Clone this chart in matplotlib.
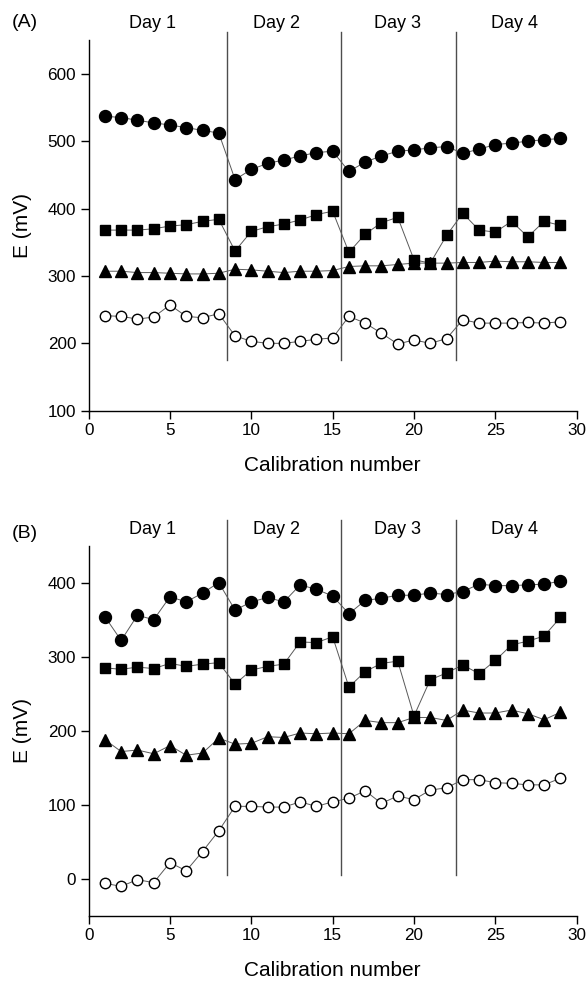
import numpy as np
import matplotlib.pyplot as plt

plt.rcParams['font.family'] = ['Liberation Sans', 'DejaVu Sans']

calib = np.arange(1, 30)

# Panel A values (mV)
a_filled_circle = [537, 535, 531, 527, 524, 520, 516, 512, 443, 458, 467, 472, 478,
                   483, 485, 455, 469, 478, 485, 487, 490, 492, 482, 488, 495, 497,
                   500, 502, 504]
a_square = [368, 368, 368, 370, 374, 376, 381, 384, 337, 366, 373, 377, 383, 391,
            396, 335, 362, 379, 387, 324, 319, 360, 393, 368, 365, 381, 358, 381, 375]
a_triangle = [307, 307, 305, 305, 304, 303, 303, 304, 310, 309, 307, 305, 307, 307,
              308, 314, 315, 315, 317, 319, 319, 319, 320, 320, 322, 321, 321, 320, 320]
a_open_circle = [241, 240, 236, 239, 257, 240, 238, 244, 211, 203, 200, 200, 203,
                 206, 208, 240, 230, 215, 199, 205, 200, 207, 235, 230, 230, 230,
                 231, 230, 232]

# Panel B values (mV)
b_filled_circle = [354, 322, 356, 350, 381, 374, 386, 400, 363, 374, 380, 374, 397,
                   391, 382, 358, 376, 379, 383, 383, 386, 384, 388, 398, 396, 396,
                   397, 398, 402]
b_square = [285, 283, 286, 284, 291, 287, 290, 292, 263, 282, 287, 290, 320, 319,
            327, 259, 280, 291, 294, 220, 269, 278, 289, 277, 295, 316, 321, 328, 353]
b_triangle = [188, 172, 174, 169, 180, 167, 170, 190, 182, 183, 192, 191, 197, 196,
              197, 196, 214, 211, 211, 218, 218, 214, 228, 224, 224, 228, 223, 215, 225]
b_open_circle = [-6, -10, -1, -5, 22, 11, 37, 65, 98, 98, 97, 97, 104, 98, 104, 109,
                 119, 102, 112, 107, 120, 123, 134, 134, 130, 129, 127, 127, 136]

day_breaks = [8.5, 15.5, 22.6]
day_labels = ['Day 1', 'Day 2', 'Day 3', 'Day 4']
day_label_x = [3.9, 11.55, 19.0, 26.2]

fig = plt.figure(figsize=(5.87, 9.81), dpi=100)
ax_a = fig.add_axes([0.151, 0.5813, 0.8314, 0.3779])
ax_b = fig.add_axes([0.151, 0.0663, 0.8314, 0.3775])


def draw_panel(ax, series, ylim, yticks, line_span, label_y, tag, tag_y):
    fc, sq, tr, oc = series
    # thin connecting lines drawn under markers
    ax.plot(calib, tr, marker='^', markersize=9, markerfacecolor='black',
            markeredgecolor='black', color='0.35', linewidth=0.7, zorder=2)
    ax.plot(calib, oc, marker='o', markersize=7.5, markerfacecolor='white',
            markeredgecolor='black', markeredgewidth=1.0, color='0.35', linewidth=0.7, zorder=2)
    ax.plot(calib, sq, marker='s', markersize=7.4, markerfacecolor='black',
            markeredgecolor='black', color='0.35', linewidth=0.7, zorder=3)
    ax.plot(calib, fc, marker='o', markersize=8.6, markerfacecolor='black',
            markeredgecolor='black', color='0.35', linewidth=0.7, zorder=3)

    for xb in day_breaks:
        ax.plot([xb, xb], line_span, color='0.3', linewidth=1.0, clip_on=False, zorder=1)
    for lbl, xl in zip(day_labels, day_label_x):
        ax.text(xl, label_y, lbl, ha='center', va='center', fontsize=13)

    ax.set_xlim(0, 30)
    ax.set_ylim(*ylim)
    ax.set_xticks([0, 5, 10, 15, 20, 25, 30])
    ax.set_yticks(yticks)
    ax.spines['top'].set_visible(False)
    ax.spines['right'].set_visible(False)
    for s in ('left', 'bottom'):
        ax.spines[s].set_linewidth(1.0)
    ax.tick_params(direction='out', length=6, width=1.0, labelsize=12.3, pad=3)
    ax.set_xlabel('Calibration number', fontsize=15)
    ax.set_ylabel('E (mV)', fontsize=15)
    ax.xaxis.set_label_coords(0.5, -0.148)
    ax.yaxis.set_label_coords(-0.135, 0.5)
    ax.xaxis.label.set_va('center')
    ax.yaxis.label.set_va('center')
    ax.text(-0.157, tag_y, tag, transform=ax.transAxes, fontsize=14,
            ha='left', va='center')


draw_panel(ax_a, (a_filled_circle, a_square, a_triangle, a_open_circle),
           (100, 650), [100, 200, 300, 400, 500, 600], (175, 662), 675, '(A)', 1.046)
draw_panel(ax_b, (b_filled_circle, b_square, b_triangle, b_open_circle),
           (-50, 450), [0, 100, 200, 300, 400], (5, 485), 472, '(B)', 1.034)

fig.savefig('out.png', dpi=100)
